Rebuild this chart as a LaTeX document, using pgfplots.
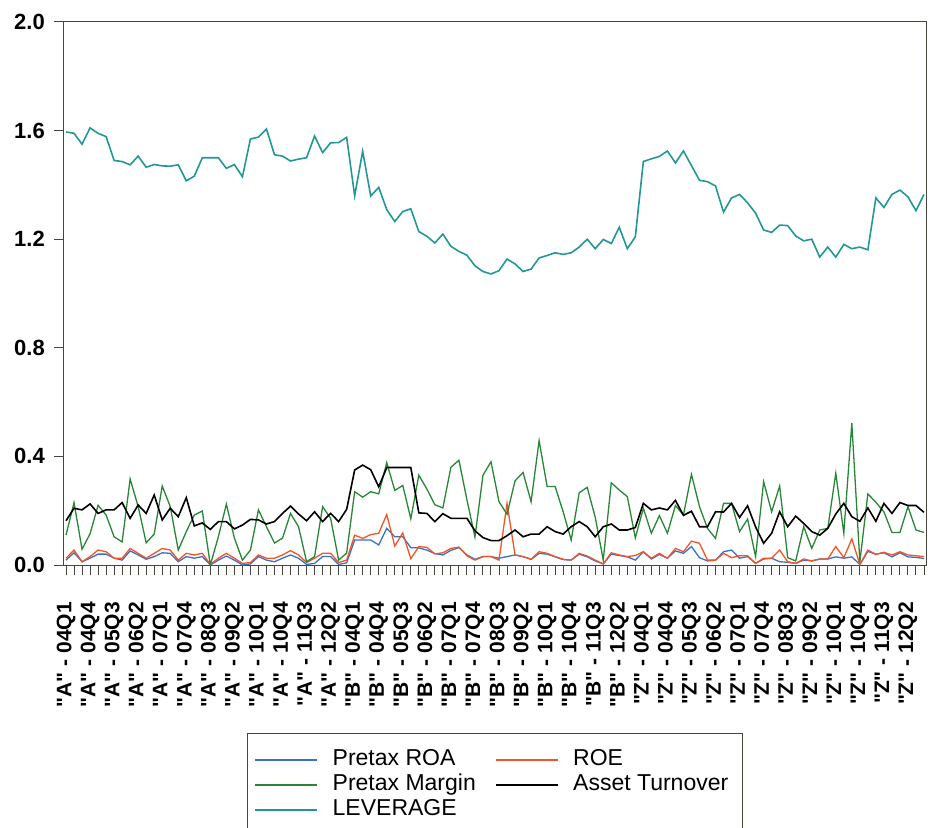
\documentclass[border=0pt]{standalone}
\usepackage{fontspec}
\setmainfont{Liberation Sans}
\newfontfamily\lsans{Liberation Sans}
\usepackage{pgfplots}
\usepackage{pgfplotstable}
\pgfplotsset{compat=1.18}
\definecolor{roacol}{RGB}{58,112,205}
\definecolor{roecol}{RGB}{240,85,40}
\definecolor{margincol}{RGB}{40,135,55}
\definecolor{levcol}{RGB}{35,150,150}
\definecolor{framecol}{RGB}{70,70,60}
\newcommand\ytf{\lsans\bfseries\fontsize{22}{24}\selectfont}
\newcommand\xtf{\lsans\bfseries\fontsize{21}{22}\selectfont}
\newcommand\lgf{\lsans\fontsize{23}{25}\selectfont}

\pgfplotstableread{
i roa roe margin turn lev
0 0.018 0.025 0.110 0.163 1.595
1 0.045 0.055 0.230 0.209 1.590
2 0.012 0.012 0.058 0.203 1.550
3 0.025 0.031 0.115 0.225 1.610
4 0.040 0.055 0.220 0.190 1.590
5 0.040 0.049 0.184 0.203 1.578
6 0.025 0.025 0.104 0.203 1.490
7 0.018 0.025 0.085 0.230 1.486
8 0.052 0.061 0.317 0.172 1.474
9 0.037 0.043 0.215 0.221 1.506
10 0.021 0.025 0.082 0.190 1.465
11 0.031 0.043 0.114 0.258 1.475
12 0.045 0.061 0.291 0.166 1.470
13 0.043 0.055 0.215 0.209 1.469
14 0.012 0.018 0.055 0.178 1.474
15 0.031 0.043 0.123 0.248 1.415
16 0.025 0.037 0.184 0.144 1.432
17 0.031 0.043 0.199 0.155 1.500
18 0.000 0.002 0.000 0.131 1.500
19 0.018 0.025 0.104 0.160 1.500
20 0.033 0.043 0.224 0.160 1.461
21 0.018 0.025 0.099 0.133 1.475
22 0.000 0.006 0.018 0.147 1.430
23 0.004 0.009 0.055 0.168 1.569
24 0.031 0.037 0.203 0.166 1.576
25 0.018 0.025 0.141 0.151 1.606
26 0.012 0.025 0.081 0.160 1.511
27 0.025 0.037 0.099 0.190 1.506
28 0.037 0.053 0.190 0.217 1.488
29 0.025 0.037 0.141 0.188 1.495
30 0.002 0.009 0.012 0.163 1.500
31 0.006 0.025 0.031 0.196 1.580
32 0.031 0.043 0.215 0.160 1.519
33 0.031 0.043 0.172 0.190 1.555
34 0.002 0.009 0.018 0.160 1.556
35 0.008 0.018 0.044 0.205 1.575
36 0.092 0.110 0.270 0.350 1.360
37 0.092 0.098 0.250 0.368 1.524
38 0.092 0.112 0.270 0.351 1.359
39 0.074 0.117 0.262 0.288 1.391
40 0.135 0.186 0.377 0.359 1.309
41 0.104 0.070 0.275 0.359 1.265
42 0.104 0.118 0.293 0.359 1.302
43 0.064 0.023 0.170 0.359 1.312
44 0.063 0.068 0.331 0.192 1.228
45 0.055 0.065 0.280 0.190 1.211
46 0.042 0.041 0.222 0.160 1.186
47 0.037 0.045 0.210 0.189 1.219
48 0.054 0.061 0.360 0.172 1.174
49 0.064 0.066 0.386 0.172 1.155
50 0.037 0.034 0.240 0.172 1.141
51 0.021 0.018 0.103 0.126 1.102
52 0.031 0.031 0.331 0.101 1.081
53 0.031 0.031 0.380 0.090 1.072
54 0.025 0.018 0.233 0.090 1.084
55 0.031 0.227 0.187 0.108 1.127
56 0.037 0.037 0.310 0.129 1.109
57 0.031 0.031 0.341 0.104 1.081
58 0.021 0.021 0.233 0.114 1.090
59 0.043 0.049 0.458 0.114 1.131
60 0.040 0.043 0.289 0.141 1.140
61 0.030 0.031 0.289 0.123 1.150
62 0.020 0.021 0.196 0.114 1.144
63 0.018 0.018 0.092 0.141 1.150
64 0.040 0.043 0.266 0.160 1.171
65 0.030 0.033 0.286 0.141 1.200
66 0.015 0.018 0.176 0.104 1.165
67 0.004 0.004 0.018 0.141 1.199
68 0.040 0.045 0.303 0.151 1.184
69 0.035 0.037 0.276 0.129 1.244
70 0.030 0.031 0.252 0.129 1.165
71 0.018 0.035 0.100 0.138 1.209
72 0.049 0.049 0.209 0.227 1.486
73 0.022 0.025 0.117 0.203 1.496
74 0.039 0.043 0.182 0.210 1.505
75 0.025 0.025 0.117 0.203 1.525
76 0.052 0.061 0.219 0.238 1.481
77 0.043 0.049 0.184 0.183 1.525
78 0.068 0.088 0.334 0.198 1.471
79 0.027 0.080 0.215 0.141 1.417
80 0.015 0.018 0.135 0.141 1.412
81 0.018 0.018 0.098 0.196 1.396
82 0.049 0.043 0.227 0.195 1.300
83 0.055 0.027 0.227 0.227 1.352
84 0.025 0.034 0.123 0.175 1.365
85 0.031 0.034 0.169 0.218 1.334
86 0.006 0.006 0.031 0.140 1.296
87 0.022 0.025 0.307 0.080 1.234
88 0.025 0.025 0.196 0.117 1.225
89 0.012 0.055 0.291 0.196 1.252
90 0.010 0.012 0.027 0.141 1.250
91 0.006 0.006 0.015 0.180 1.212
92 0.018 0.022 0.141 0.153 1.194
93 0.015 0.015 0.061 0.123 1.200
94 0.022 0.022 0.129 0.110 1.134
95 0.022 0.022 0.135 0.135 1.171
96 0.030 0.068 0.338 0.188 1.134
97 0.025 0.027 0.117 0.227 1.181
98 0.030 0.096 0.522 0.178 1.165
99 0.002 0.002 0.012 0.161 1.171
100 0.050 0.055 0.262 0.210 1.161
101 0.040 0.039 0.231 0.161 1.352
102 0.045 0.047 0.196 0.227 1.317
103 0.030 0.037 0.120 0.190 1.365
104 0.045 0.049 0.120 0.230 1.381
105 0.030 0.037 0.215 0.219 1.356
106 0.028 0.034 0.129 0.219 1.305
107 0.024 0.031 0.120 0.194 1.365
}\data

\begin{document}
\begin{tikzpicture}
\begin{axis}[
  at={(0pt,0pt)}, anchor=south west,
  width=862pt, height=543pt, scale only axis,
  xmin=-0.25, xmax=107.25, ymin=0, ymax=2,
  axis line style={framecol, line width=1pt},
  tick align=outside, tick pos=left,
  major tick length=10pt, minor tick length=10pt,
  every tick/.style={framecol, line width=1pt},
  ytick={0,0.4,0.8,1.2,1.6,2.0},
  yticklabels={0.0,0.4,0.8,1.2,1.6,2.0},
  yticklabel style={font=\ytf, anchor=east, inner sep=0pt},
  yticklabel shift=9pt,
  xtick={0,3,...,105},
  minor xtick={0,1,...,107},
  xticklabels={
    "A" - 04Q1,"A" - 04Q4,"A" - 05Q3,"A" - 06Q2,"A" - 07Q1,"A" - 07Q4,
    "A" - 08Q3,"A" - 09Q2,"A" - 10Q1,"A" - 10Q4,"A" - 11Q3,"A" - 12Q2,
    "B" - 04Q1,"B" - 04Q4,"B" - 05Q3,"B" - 06Q2,"B" - 07Q1,"B" - 07Q4,
    "B" - 08Q3,"B" - 09Q2,"B" - 10Q1,"B" - 10Q4,"B" - 11Q3,"B" - 12Q2,
    "Z" - 04Q1,"Z" - 04Q4,"Z" - 05Q3,"Z" - 06Q2,"Z" - 07Q1,"Z" - 07Q4,
    "Z" - 08Q3,"Z" - 09Q2,"Z" - 10Q1,"Z" - 10Q4,"Z" - 11Q3,"Z" - 12Q2},
  xticklabel style={font=\xtf, rotate=90, anchor=east, inner sep=0pt},
  xticklabel shift=27pt,
  clip=true,
  legend columns=2,
  legend cell align=left,
  legend style={at={(axis description cs:0.2123,-0.3094)}, anchor=north west,
    draw=framecol, line width=0.8pt, font=\lgf, inner xsep=7pt, inner ysep=14pt,
    nodes={font=\lgf, inner xsep=7pt, inner ysep=1.5pt, text height=17pt, text depth=5pt},
    /tikz/every odd column/.append style={column sep=8pt},
    /tikz/every even column/.append style={column sep=12pt}},
  legend image code/.code={\draw[#1, line width=1.3pt] (0pt,0pt) -- (62pt,0pt);},
]
\addplot[roacol, line width=1.3pt] table[x=i, y=roa] {\data};
\addlegendentry{Pretax ROA}
\addplot[roecol, line width=1.3pt] table[x=i, y=roe] {\data};
\addlegendentry{ROE}
\addplot[margincol, line width=1.3pt] table[x=i, y=margin] {\data};
\addlegendentry{Pretax Margin}
\addplot[black, line width=1.6pt] table[x=i, y=turn] {\data};
\addlegendentry{Asset Turnover}
\addplot[levcol, line width=1.6pt] table[x=i, y=lev] {\data};
\addlegendentry{LEVERAGE}
\end{axis}
\pgfresetboundingbox
\path[use as bounding box] (-64pt,-262pt) rectangle (867pt,565pt);
\end{tikzpicture}
\end{document}
